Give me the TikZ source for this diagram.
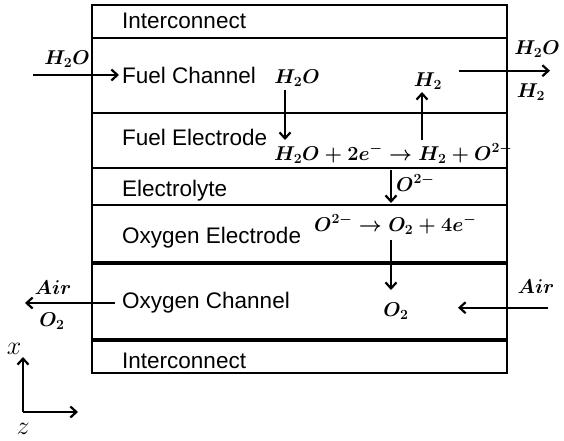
\RequirePackage{fix-cm}
\documentclass[tikz,border=0pt]{standalone}
\usepackage{fontspec}
\setmainfont{Liberation Sans}
\usetikzlibrary{arrows.meta}
\tikzset{
  lay/.style={anchor=west, font=\fontsize{22.5}{26}\selectfont, inner sep=0pt},
  chem/.style={font=\fontsize{20}{24}\selectfont\boldmath, inner sep=0pt},
  axl/.style={font=\fontsize{26}{30}\selectfont, inner sep=0pt},
  wall/.style={line width=2pt},
  thickwall/.style={line width=3.8pt},
  flow/.style={line width=2pt, -{Straight Barb[length=6pt,width=11pt,line width=2.2pt]}}
}
\begin{document}
\begin{tikzpicture}[x=1pt,y=-1pt]
\useasboundingbox (0,0) rectangle (564,441);
% box and layer boundaries
\draw[wall] (92,37.7) -- (507,37.7);
\draw[wall] (92,112.7) -- (507,112.7);
\draw[wall] (92,168) -- (507,168);
\draw[wall] (92,205) -- (507,205);
\draw[thickwall] (92,263) -- (507,263);
\draw[thickwall] (92,340) -- (507,340);
\draw[wall] (92,5) rectangle (507,373);
% layer labels
\node[lay] (ic1) at (122,21) {Interconnect};
\node[lay] (fch) at (122,75) {Fuel Channel};
\node[lay] (fel) at (122,137) {Fuel Electrode};
\node[lay] (ely) at (122,191) {Electrolyte};
\node[lay] (oel) at (122,238) {Oxygen Electrode};
\node[lay] (och) at (122,303) {Oxygen Channel};
\node[lay] (ic2) at (122,361) {Interconnect};
% fuel inlet
\coordinate (inA) at (33,75); \coordinate (inB) at (119,75);
\draw[flow] (inA) -- (inB);
\node[chem] (h2oin) at (67,59) {$H_2O$};
% H2O down into electrode
\node[chem] (h2oa) at (297,78) {$H_2O$};
\coordinate (dA) at (285,90); \coordinate (dB) at (285,140);
\draw[flow] (dA) -- (dB);
% H2 up
\coordinate (uA) at (422,140); \coordinate (uB) at (422,92);
\draw[flow] (uA) -- (uB);
\node[chem] (h2a) at (428,81) {$H_2$};
% fuel outlet
\coordinate (oA) at (459,70.7); \coordinate (oB) at (550,70.7);
\draw[flow] (oA) -- (oB);
\node[chem] (h2oout) at (537,49) {$H_2O$};
\node[chem] (h2out) at (531,92) {$H_2$};
% fuel electrode reaction
\node[chem, anchor=base west] (eq1) at (274,160) {$H_2O + 2e^{-} \rightarrow H_2 + O^{2-}$};
% O2- through electrolyte
\coordinate (eA) at (391,170); \coordinate (eB) at (391,203);
\draw[flow] (eA) -- (eB);
\node[chem, anchor=west] (o2m) at (396,183) {$O^{2-}$};
% oxygen electrode reaction
\node[chem, anchor=base west] (eq2) at (314,231) {$O^{2-} \rightarrow O_2 + 4e^{-}$};
% O2 down
\coordinate (gA) at (391,240); \coordinate (gB) at (391,290);
\draw[flow] (gA) -- (gB);
\node[chem] (o2a) at (396,311) {$O_2$};
% air inlet
\coordinate (aA) at (548,307.7); \coordinate (aB) at (458,307.7);
\draw[flow] (aA) -- (aB);
\node[chem] (airin) at (536,287) {$Air$};
% oxygen outlet
\coordinate (lA) at (115,303); \coordinate (lB) at (25,303);
\draw[flow] (lA) -- (lB);
\node[chem] (airout) at (53,288) {$Air$};
\node[chem] (o2out) at (52,321) {$O_2$};
% axes
\coordinate (org) at (23,412);
\coordinate (xt) at (23,357); \coordinate (zt) at (78,412);
\draw[flow, line width=1.6pt] (org) -- (xt);
\draw[flow, line width=1.6pt] (org) -- (zt);
\node[axl] (xl) at (14,349) {$x$};
\node[axl] (zl) at (23,429) {$z$};
\end{tikzpicture}
\end{document}
